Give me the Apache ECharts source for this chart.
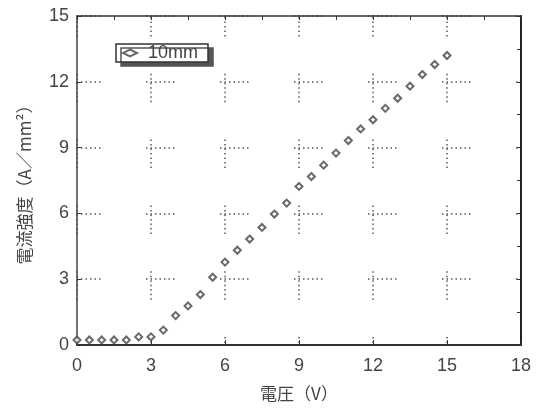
<!DOCTYPE html>
<html>
<head>
<meta charset="utf-8">
<script src="https://cdn.jsdelivr.net/npm/echarts@6/dist/echarts.min.js"></script>
<style>
html,body{margin:0;padding:0;background:#fff;}
#chart{width:545px;height:409px;}
</style>
</head>
<body>
<div id="chart"></div>
<script>
// Data
const voltage = [0,0.5,1,1.5,2,2.5,3,3.5,4,4.5,5,5.5,6,6.5,7,7.5,8,8.5,9,9.5,10,10.5,11,11.5,12,12.5,13,13.5,14,14.5,15];
const currentDensity = [0.23,0.23,0.23,0.23,0.23,0.37,0.37,0.68,1.34,1.78,2.3,3.09,3.78,4.32,4.83,5.36,5.97,6.47,7.23,7.68,8.2,8.75,9.32,9.85,10.27,10.79,11.25,11.8,12.33,12.79,13.2];
const seriesName = '10mm';
const xTitle = '電圧（V）';
const yTitle = '電流強度（A／mm²）';

const chart = echarts.init(document.getElementById('chart'), null, {renderer: 'canvas'});

function dotPattern(period, dots) {
  const arr = [];
  for (let i = 0; i < dots; i++) {
    arr.push(1.5);
    arr.push(i < dots - 1 ? 3 : period - (dots * 1.5 + (dots - 1) * 3));
  }
  return arr;
}
const gridLeft = 77, gridRight = 24, gridTop = 16, gridBottom = 64;
const W = 545 - gridLeft - gridRight;
const H = 409 - gridTop - gridBottom;
const hPeriod = W / 6;
const vPeriod = H / 5;

const labelFont = {fontFamily: 'Liberation Sans, Arial, sans-serif', fontSize: 18, color: '#444'};
function lineStyle(c, w) { return {color: c, width: w}; }

chart.setOption({
  animation: false,
  backgroundColor: '#fff',
  grid: {left: gridLeft, right: gridRight, top: gridTop, bottom: gridBottom, containLabel: false},
  legend: {
    data: [seriesName],
    left: 116, top: 44,
    itemWidth: 14, itemHeight: 7, itemGap: 4,
    padding: [0, 10, 0, 6],
    backgroundColor: '#fff',
    borderColor: '#333', borderWidth: 1.5,
    shadowColor: '#555', shadowBlur: 0, shadowOffsetX: 5, shadowOffsetY: 4,
    textStyle: {fontFamily: 'Liberation Sans, Arial, sans-serif', fontSize: 18, color: '#444', padding: [0,0,0,6]}
  },
  xAxis: [{
    type: 'value', min: 0, max: 18, interval: 3, position: 'bottom',
    name: xTitle, nameLocation: 'middle', nameGap: 40,
    nameTextStyle: {fontFamily: 'Noto Sans CJK JP, sans-serif', fontSize: 17, color: '#444'},
    axisLine: {show: true, onZero: false, lineStyle: lineStyle('#333', 2)},
    axisTick: {show: true, inside: true, length: 5, lineStyle: {color: '#333'}},
    axisLabel: Object.assign({margin: 12}, labelFont),
    splitLine: {show: true, lineStyle: {color: '#555', width: 1.5, type: dotPattern(vPeriod, 7), dashOffset: 8}}
  }, {
    type: 'value', min: 0, max: 18, interval: 1.5, position: 'top',
    axisLine: {show: true, onZero: false, lineStyle: lineStyle('#333', 1.5)},
    axisTick: {show: true, inside: true, length: 4, lineStyle: {color: '#333'}},
    axisLabel: {show: false}, splitLine: {show: false}
  }],
  yAxis: [{
    type: 'value', min: 0, max: 15, interval: 3, position: 'left',
    name: yTitle, nameLocation: 'middle', nameGap: 44,
    nameTextStyle: {fontFamily: 'Noto Sans CJK JP, sans-serif', fontSize: 17, color: '#444'},
    axisLine: {show: true, onZero: false, lineStyle: lineStyle('#444', 1.5)},
    axisTick: {show: true, inside: true, length: 4, lineStyle: {color: '#333'}},
    axisLabel: Object.assign({margin: 8}, labelFont),
    splitLine: {show: true, lineStyle: {color: '#555', width: 1.5, type: dotPattern(hPeriod, 7), dashOffset: 5}}
  }, {
    type: 'value', min: 0, max: 15, interval: 1.5, position: 'right',
    axisLine: {show: true, onZero: false, lineStyle: lineStyle('#222', 2)},
    axisTick: {show: true, inside: true, length: 4, lineStyle: {color: '#333'}},
    axisLabel: {show: false}, splitLine: {show: false}
  }],
  series: [{
    name: seriesName,
    type: 'scatter',
    data: voltage.map((v, i) => [v, currentDensity[i]]),
    symbol: 'emptyDiamond',
    symbolSize: 7,
    itemStyle: {color: '#444', borderColor: '#444', borderWidth: 1.5},
    xAxisIndex: 0, yAxisIndex: 0
  }]
});
</script>
</body>
</html>
